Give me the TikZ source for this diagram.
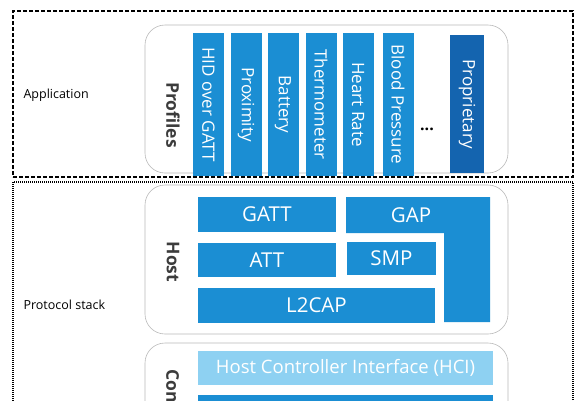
\documentclass[tikz,border=0pt]{standalone}
\usepackage{fontspec}
\setmainfont{Open Sans}
\usetikzlibrary{positioning}
\definecolor{bleblue}{RGB}{27,142,211}
\definecolor{propblue}{RGB}{20,100,175}
\definecolor{hciblue}{RGB}{142,209,242}
\definecolor{labelgray}{RGB}{60,60,60}
\tikzset{
    appframe/.style={draw, line width=1.1pt, dash pattern=on 4pt off 2pt, minimum width=560pt, minimum height=166pt},
    stackframe/.style={draw, line width=1.1pt, dash pattern=on 1pt off 1pt, minimum width=560pt},
    group/.style={draw=gray!55, line width=0.6pt, rounded corners=20pt, minimum width=363pt},
    layer/.style={fill=bleblue, text=white, inner sep=0pt, font=\fontsize{20.5}{22}\selectfont},
    profile/.style={layer, rotate=-90, minimum width=143pt, minimum height=31pt, font=\fontsize{17}{19}\selectfont},
    grouplabel/.style={rotate=-90, text=labelgray, font=\bfseries\fontsize{17.5}{19}\selectfont},
    sidelabel/.style={anchor=west, font=\fontsize{12.5}{14}\selectfont}
}
\begin{document}
\begin{tikzpicture}[x=1pt, y=-1pt]
            \useasboundingbox (0,0) rectangle (587,400);
            \clip (0,0) rectangle (587,400);

            % outer frames
            \node[appframe] (app_frame) at (293,94) {};
            \node[stackframe, minimum height=260pt] (stack_frame) at (293,312) {};
            \node[sidelabel] (app_label) at (20,95) {Application};
            \node[sidelabel] (stack_label) at (20,305) {Protocol stack};

            % profiles
            \node[group, minimum height=148pt] (profiles_box) at (326.5,99) {};
            \node[grouplabel] (profiles_label) at (173,115) {Profiles};
            \node[profile] (hid_gatt) at (208.5,104.5) {HID over GATT};
            \node[profile] (proximity) at (246,104.5) {Proximity};
            \node[profile] (battery) at (283,104.5) {Battery};
            \node[profile] (thermometer) at (321,104.5) {Thermometer};
            \node[profile] (heart_rate) at (358,104.5) {Heart Rate};
            \node[profile] (blood_pressure) at (398,104.5) {Blood Pressure};
            \node[font=\bfseries\fontsize{16}{18}\selectfont] (more_profiles) at (427,129) {...};
            \node[profile, fill=propblue, minimum width=138pt, minimum height=34pt] (proprietary) at (467,104) {Proprietary};

            % host
            \node[group, minimum height=149pt] (host_box) at (326.5,259.5) {};
            \node[grouplabel] (host_label) at (173,262) {Host};
            \node[layer, minimum width=138pt, minimum height=35pt] (gatt) at (267,214.5) {GATT};
            \node[layer, minimum width=138pt, minimum height=34pt] (att) at (267,260) {ATT};
            \node[layer, minimum width=237pt, minimum height=35pt] (l2cap) at (316.5,305.5) {L2CAP};
            \node[layer, minimum width=89pt, minimum height=33pt] (smp) at (391.5,258.5) {SMP};
            \fill[bleblue] (346,197) -- (490,197) -- (490,322) -- (444,322) -- (444,233) -- (346,233) -- cycle;
            \node[layer, fill=none] (gap) at (411,215) {GAP};

            % controller
            \node[group, minimum height=120pt] (controller_box) at (326.5,403) {};
            \node[grouplabel, anchor=west] (controller_label) at (173,366) {Controller};
            \node[layer, fill=hciblue, minimum width=295pt, minimum height=34pt, font=\fontsize{18.5}{21}\selectfont] (hci) at (345.5,368) {Host Controller Interface (HCI)};
            \node[layer, minimum width=295pt, minimum height=34pt, below=10pt of hci] (link_layer) {};
        \end{tikzpicture}
\end{document}
